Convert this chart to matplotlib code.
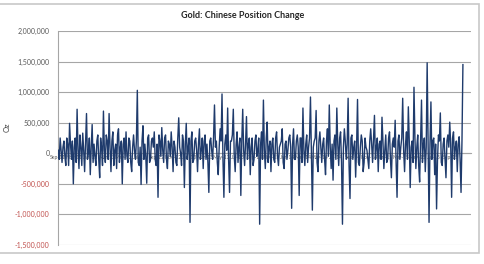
import matplotlib
matplotlib.use("Agg")
import matplotlib.pyplot as plt
import numpy as np
import pandas as pd
from matplotlib.ticker import FuncFormatter

# change in Chinese gold position (thousand oz), twice a week
changes_k = [
    50, -100, 250, 50, -150, 100, 200, -50, -200, 250, 150, -200,
    490, 150, -100, 200, -500, 100, 250, -150, 720, 50, -250, 300,
    100, -200, 330, 50, -300, 200, 650, -100, 0, 250, -350, 100,
    470, -150, 150, -50, -200, 200, 300, -100, -400, 250, 100, -200,
    690, 50, -150, 300, 200, -100, 650, 100, -300, 200, 350, -200,
    50, 150, -250, 300, 400, -150, 100, 200, -500, 150, 250, -100,
    350, -50, -150, 250, 200, -150, -300, 100, 300, 50, -100, 200,
    1030, -150, -200, 100, -510, 200, 450, -100, 150, -50, -490, 250,
    300, -150, -100, 200, 250, 100, 350, -100, -200, 150, -720, 300,
    200, -50, 420, 50, -150, 250, 300, -100, -250, 200, 150, -50,
    350, 100, -300, 200, 100, -150, -200, 250, 580, 100, 0, -200,
    300, 200, -560, 150, 490, -100, 100, 250, -1130, 200, 350, -150,
    -100, 200, 250, 50, -300, 150, 400, -100, 50, 250, -250, 200,
    300, -100, 150, -150, -640, 200, 250, 50, -100, 250, 790, 100,
    200, -150, -350, 100, 400, 200, 970, -100, -720, 150, 300, 50,
    740, -100, -640, 200, 200, 300, 720, -50, -300, 150, 350, -150,
    100, 250, -690, 200, 720, 50, -200, 150, 600, -100, 150, 250,
    -350, 100, 250, -200, -100, 200, 300, -50, 50, 250, -1160, 150,
    350, -100, 870, 50, -250, 250, 510, -150, 100, 200, -300, 150,
    250, -100, -150, 250, 350, -50, -200, 100, 150, 200, 400, -150,
    -250, 150, 200, -100, 50, 250, 300, 100, -900, 150, 400, -100,
    -100, 200, 300, 100, -690, 250, 250, -150, 740, 50, -200, 150,
    300, -150, 100, 250, 920, -50, -930, 100, 200, 250, 700, -150,
    -300, 200, 350, 100, -150, 150, 250, -100, -350, 200, 400, -50,
    790, 100, -250, 150, -440, 200, 300, -100, 740, 150, -200, 250,
    350, -150, -1160, 100, 400, 200, -100, 150, 900, -200, -740, 250,
    300, -100, 100, 200, -390, 100, 880, -150, -200, 100, 300, 200,
    -300, -150, 250, 100, 50, -100, -250, 200, 400, 150, -150, 250,
    620, -100, 100, 250, -300, 150, 200, -100, 590, 200, -250, 50,
    300, -150, -100, 250, 350, -100, -400, 150, 250, 100, 540, -150,
    -720, 200, 300, -100, 100, 250, 900, 50, -300, 150, 350, -100,
    760, 200, -560, 100, 200, -150, 1080, 250, -250, 100, 300, -200,
    -470, 200, 870, -150, 150, 250, -300, 100, 1480, 200, -1130, 150,
    840, -100, 200, 250, -350, 150, -910, -100, 300, 200, 660, -150,
    -200, 150, 250, -100, -400, 200, 300, 100, 510, 150, -720, 250,
    350, -100, 100, 200, -300, 150, 270, -100, -640, 200, 1450,
]
start_date = "2011-09-02"
month_labels = [
    "Sep-11", "Nov-11", "Jan-12", "Mar-12", "May-12", "Jul-12", "Sep-12",
    "Nov-12", "Jan-13", "Mar-13", "May-13", "Jul-13", "Sep-13", "Nov-13",
    "Jan-14", "Mar-14", "May-14", "Jul-14", "Sep-14", "Nov-14", "Jan-15",
    "Mar-15", "May-15", "Jul-15", "Sep-15",
]
y_ticks = [-1500000, -1000000, -500000, 0, 500000, 1000000, 1500000, 2000000]

dates = pd.date_range(start_date, periods=len(changes_k), freq="84h")
values = np.array(changes_k) * 1000
tick_dates = pd.to_datetime(month_labels, format="%b-%y")

plt.rcParams["font.family"] = ["Lato", "DejaVu Sans"]

fig = plt.figure(figsize=(4.85, 2.64), dpi=100)
ax = fig.add_axes([0.1196, 0.072, 0.8515, 0.8106])

# chart area border
fig.patches.append(plt.Rectangle((-0.01, 0.04), 0.998, 0.945, transform=fig.transFigure,
                                 fill=False, edgecolor="#c8c8c8", linewidth=1.2))

ax.plot(dates, values, color="#1f3b6c", linewidth=1.0, zorder=3)

ax.set_ylim(-1500000, 2000000)
ax.set_xlim(pd.Timestamp("2011-09-01"), dates[-1] + pd.Timedelta(days=30))
ax.set_yticks(y_ticks)
ax.yaxis.set_major_formatter(FuncFormatter(lambda v, p: f"{v:,.0f}"))
ax.grid(axis="y", color="#a6a6a6", linewidth=0.8, zorder=0)
ax.tick_params(axis="y", length=0, labelsize=5, labelcolor="#595959", pad=6)
for lab, v in zip(ax.get_yticklabels(), y_ticks):
    if v < 0:
        lab.set_color("#c0504d")

ax.set_xticks(tick_dates)
ax.set_xticklabels(month_labels, rotation=45, ha="right", rotation_mode="anchor")
ax.tick_params(axis="x", length=0, labelsize=3.7, labelcolor="#595959", pad=1.5)

for side in ["top", "right"]:
    ax.spines[side].set_visible(False)
ax.spines["left"].set_color("#a6a6a6")
ax.spines["bottom"].set_position(("data", 0))
ax.spines["bottom"].set_color("#a6a6a6")
ax.spines["bottom"].set_linewidth(0.8)

ax.set_ylabel("Oz", fontsize=5.5, color="#404040")
ax.yaxis.set_label_coords(-0.115, 0.55)
fig.text(0.5, 0.94, "Gold: Chinese Position Change", ha="center", va="center",
         fontsize=6.5, fontweight="bold", color="#262626")

fig.savefig("out.png", dpi=100, facecolor="white")
